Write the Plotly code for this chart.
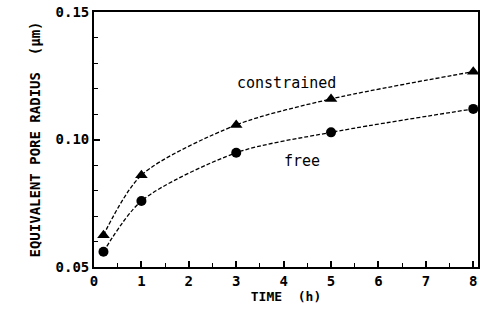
import plotly.graph_objects as go

time_h = [0.2, 1, 3, 5, 8]
constrained = [0.0625, 0.0860, 0.1057, 0.1159, 0.1266]
free = [0.0560, 0.0759, 0.0948, 0.1028, 0.1120]

FONT = "DejaVu Sans Mono"

fig = go.Figure()
fig.add_trace(go.Scatter(
    x=time_h, y=constrained, mode="lines+markers",
    line=dict(color="black", width=1.3, dash="4px,2px", shape="spline", smoothing=0.8),
    marker=dict(symbol="triangle-up", size=11, color="black"),
    showlegend=False))
fig.add_trace(go.Scatter(
    x=time_h, y=free, mode="lines+markers",
    line=dict(color="black", width=1.3, dash="4px,2px", shape="spline", smoothing=0.8),
    marker=dict(symbol="circle", size=10, color="black"),
    showlegend=False))

fig.add_annotation(x=4.07, y=0.1222, text="constrained", showarrow=False,
                   font=dict(family=FONT, size=15, color="black"))
fig.add_annotation(x=4.38, y=0.0916, text="free", showarrow=False,
                   font=dict(family=FONT, size=15, color="black"))

fig.update_xaxes(
    range=[0, 8.1], tick0=0, dtick=1, ticks="inside", ticklen=6, tickwidth=1.5,
    tickcolor="black", showline=True, linecolor="black", linewidth=1.8, mirror=True,
    showgrid=False, zeroline=False, automargin=False,
    minor=dict(dtick=0.5, tick0=0, ticks="inside", ticklen=4, tickwidth=1.2, tickcolor="black", showgrid=False),
    tickfont=dict(family=FONT, size=14, color="black", weight="bold"),
    title=dict(text="TIME  (h)", font=dict(family=FONT, size=13, color="black", weight="bold"), standoff=4))
fig.update_yaxes(
    range=[0.05, 0.15], tick0=0.05, dtick=0.05, tickformat=".2f", ticks="inside",
    ticklen=6, tickwidth=1.5, tickcolor="black", showline=True, linecolor="black",
    linewidth=1.8, mirror=True, showgrid=False, zeroline=False, automargin=False,
    minor=dict(dtick=0.01, tick0=0.05, ticks="inside", ticklen=4, tickwidth=1.2, tickcolor="black", showgrid=False),
    tickfont=dict(family=FONT, size=14, color="black", weight="bold"),
    title=dict(text="EQUIVALENT PORE RADIUS  (μm)", font=dict(family=FONT, size=14, color="black", weight="bold"), standoff=12))

fig.update_layout(
    width=485, height=310, margin=dict(l=94, r=7, t=12, b=43),
    paper_bgcolor="white", plot_bgcolor="white")

fig.write_html("out.html", config={"displayModeBar": False},
               post_script="document.body.style.margin='0';")
